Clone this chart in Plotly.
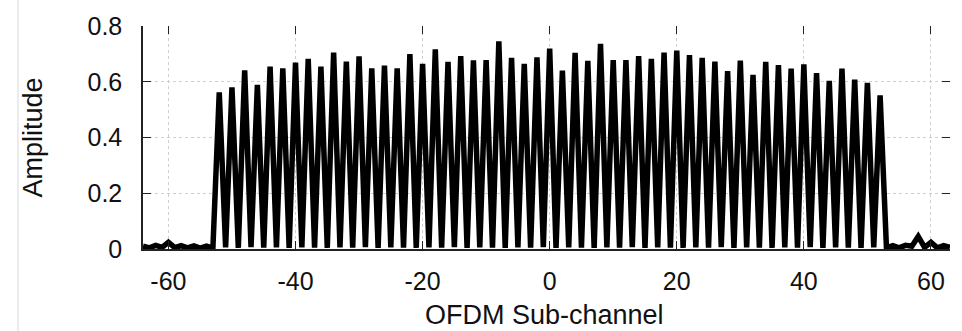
import plotly.graph_objects as go

# OFDM sub-channel indices (128-point FFT, centred on DC)
subchannel = list(range(-64, 64))

# Measured amplitude per sub-channel
amplitude = [
    0.010, 0.004, 0.013, 0.006, 0.024, 0.005, 0.012, 0.004,   # -64 .. -57
    0.011, 0.003, 0.010, 0.003,                               # -56 .. -53
    0.562, 0.006, 0.580, 0.004, 0.641, 0.007, 0.589, 0.005,   # -52 .. -45
    0.654, 0.006, 0.648, 0.004, 0.669, 0.006, 0.682, 0.005,   # -44 .. -37
    0.654, 0.004, 0.705, 0.006, 0.672, 0.005, 0.691, 0.007,   # -36 .. -29
    0.648, 0.004, 0.658, 0.006, 0.648, 0.005, 0.699, 0.004,   # -28 .. -21
    0.664, 0.006, 0.716, 0.005, 0.671, 0.007, 0.692, 0.004,   # -20 .. -13
    0.677, 0.006, 0.678, 0.005, 0.745, 0.004, 0.686, 0.006,   # -12 .. -5
    0.664, 0.005, 0.688, 0.007, 0.719, 0.004, 0.640, 0.006,   # -4 .. 3
    0.704, 0.005, 0.675, 0.004, 0.736, 0.006, 0.678, 0.005,   # 4 .. 11
    0.678, 0.007, 0.692, 0.004, 0.682, 0.006, 0.705, 0.005,   # 12 .. 19
    0.712, 0.004, 0.696, 0.006, 0.686, 0.005, 0.672, 0.007,   # 20 .. 27
    0.638, 0.004, 0.676, 0.006, 0.625, 0.005, 0.671, 0.004,   # 28 .. 35
    0.660, 0.006, 0.647, 0.005, 0.662, 0.007, 0.631, 0.004,   # 36 .. 43
    0.603, 0.006, 0.647, 0.005, 0.608, 0.004, 0.596, 0.006,   # 44 .. 51
    0.551, 0.004, 0.012, 0.004, 0.013, 0.010, 0.045, 0.006,   # 52 .. 59
    0.024, 0.004, 0.012, 0.006,                               # 60 .. 63
]

x_ticks = [-60, -40, -20, 0, 20, 40, 60]
y_ticks = [0, 0.2, 0.4, 0.6, 0.8]
y_tick_text = ["0", "0.2", "0.4", "0.6", "0.8"]
x_tick_text = ["-60", "-40", "-20", "0", "20", "40", "60"]

FONT = "Liberation Sans, Arial, Helvetica, sans-serif"
TEXT = "#111111"
GRID = "#cfcfcf"

fig = go.Figure()

fig.add_trace(go.Scatter(
    x=subchannel, y=amplitude, mode="lines",
    line=dict(color="black", width=5.5),
    showlegend=False, hoverinfo="skip",
))

# Invisible trace carrying the mirrored top/right tick axes
fig.add_trace(go.Scatter(
    x=[subchannel[0]], y=[amplitude[0]], xaxis="x2", yaxis="y2",
    mode="markers", marker=dict(opacity=0), showlegend=False, hoverinfo="skip",
))

common_grid = dict(showgrid=True, gridcolor=GRID, griddash="dot", gridwidth=1,
                   zeroline=False)

fig.update_layout(
    width=962, height=331,
    margin=dict(l=143, r=12, t=22, b=82),
    paper_bgcolor="white", plot_bgcolor="white",
    font=dict(family=FONT, color=TEXT, size=25),
    xaxis=dict(
        range=[-64, 63], tickvals=x_ticks, ticktext=x_tick_text,
        ticks="inside", ticklen=8, tickcolor="#222", tickwidth=1.2,
        showline=True, linecolor="#222", linewidth=1.5,
        tickfont=dict(size=25), ticklabelstandoff=9, **common_grid,
    ),
    yaxis=dict(
        range=[0, 0.8], tickvals=y_ticks, ticktext=y_tick_text, ticks="inside",
        ticklen=8, tickcolor="#222", tickwidth=1.2, showline=True,
        linecolor="#222", linewidth=1.5, tickfont=dict(size=25),
        ticklabelstandoff=14, **common_grid,
    ),
    xaxis2=dict(
        overlaying="x", side="top", matches="x", range=[-64, 63],
        tickvals=x_ticks, ticks="inside", ticklen=8, tickcolor="#222",
        tickwidth=1.2, showticklabels=False, showline=False, showgrid=False,
        zeroline=False,
    ),
    yaxis2=dict(
        overlaying="y", side="right", range=[0, 0.8], tickvals=y_ticks,
        ticks="inside", ticklen=8, tickcolor="#222", tickwidth=1.2,
        showticklabels=False, showline=False, showgrid=False, zeroline=False,
    ),
    annotations=[
        dict(text="OFDM Sub-channel", xref="paper", yref="paper",
             x=0.497, y=-0.295, xanchor="center", yanchor="middle",
             showarrow=False, font=dict(size=27, family=FONT, color=TEXT)),
        dict(text="Amplitude", xref="paper", yref="paper",
             x=-0.1375, y=0.5, xanchor="center", yanchor="middle",
             textangle=-90, showarrow=False,
             font=dict(size=27, family=FONT, color=TEXT)),
    ],
    shapes=[
        dict(type="line", xref="paper", yref="paper",
             x0=-0.1549, x1=-0.1549, y0=-0.5, y1=1.2,
             line=dict(color="#d9d9d9", width=1)),
    ],
)

fig.write_html("out.html")
